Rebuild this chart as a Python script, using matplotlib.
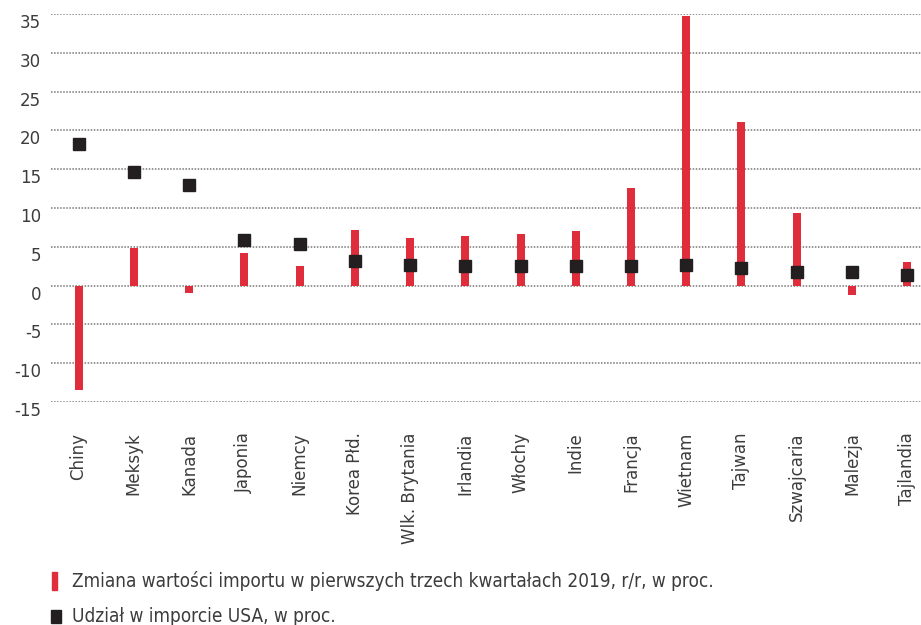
import matplotlib
matplotlib.use("Agg")
import matplotlib.pyplot as plt
import numpy as np

countries = ["Chiny", "Meksyk", "Kanada", "Japonia", "Niemcy", "Korea Płd.",
             "Wlk. Brytania", "Irlandia", "Włochy", "Indie", "Francja",
             "Wietnam", "Tajwan", "Szwajcaria", "Malezja", "Tajlandia"]
import_change = [-13.4, 4.9, -1.0, 4.2, 2.5, 7.2, 6.1, 6.4, 6.7, 7.0, 12.6,
                 34.8, 21.1, 9.4, -1.2, 3.1]
import_share = [18.3, 14.6, 12.9, 5.9, 5.3, 3.2, 2.6, 2.5, 2.5, 2.5, 2.5,
                2.7, 2.3, 1.8, 1.7, 1.4]
yticks = [-15, -10, -5, 0, 5, 10, 15, 20, 25, 30, 35]

legend_bar = "Zmiana wartości importu w pierwszych trzech kwartałach 2019, r/r, w proc."
legend_sq = "Udział w imporcie USA, w proc."

RED = "#e02d3c"
DARK = "#231f20"
TXT = "#3c3c3c"

plt.rcParams["font.family"] = ["DejaVu Sans"]

fig = plt.figure(figsize=(9.21, 6.25), dpi=100)
ax = fig.add_axes([51 / 921, 1 - 402 / 625, 1 - 51 / 921, (402 - 14) / 625])

x = np.arange(len(countries))
ax.bar(x, import_change, width=0.145, color=RED, zorder=2)
ax.plot(x, import_share, "s", color=DARK, markersize=9, zorder=3,
        linestyle="none")

ax.set_xlim(-0.5, 15.25)
ax.set_ylim(-15, 35)
ax.set_yticks(yticks)
# labels sit just under their gridline in the original
ax.set_yticklabels([str(t) for t in yticks], fontsize=12, color=TXT, va="top")
ax.tick_params(axis="y", length=0, pad=7)
ax.yaxis.grid(True, linestyle=(0, (1, 1)), color="#777777", linewidth=1.1)
ax.set_axisbelow(True)

ax.set_xticks(x)
ax.set_xticklabels(countries, rotation=90, fontsize=12, color=TXT, va="top")
ax.tick_params(axis="x", length=0, pad=22)

for s in ax.spines.values():
    s.set_visible(False)

# legend drawn by hand, as in the source graphic
fig.patches.append(plt.Rectangle((52 / 921, 1 - 590 / 625), 5 / 921, 18 / 625,
                                 transform=fig.transFigure, color=RED))
fig.text(72 / 921, 1 - 581 / 625, legend_bar, fontsize=13.6, color=TXT,
         va="center", fontstretch="condensed")
fig.patches.append(plt.Rectangle((51 / 921, 1 - 623 / 625), 10 / 921, 13 / 625,
                                 transform=fig.transFigure, color=DARK))
fig.text(72 / 921, 1 - 617 / 625, legend_sq, fontsize=13.6, color=TXT,
         va="center", fontstretch="condensed")

fig.savefig("out.png", dpi=100)
